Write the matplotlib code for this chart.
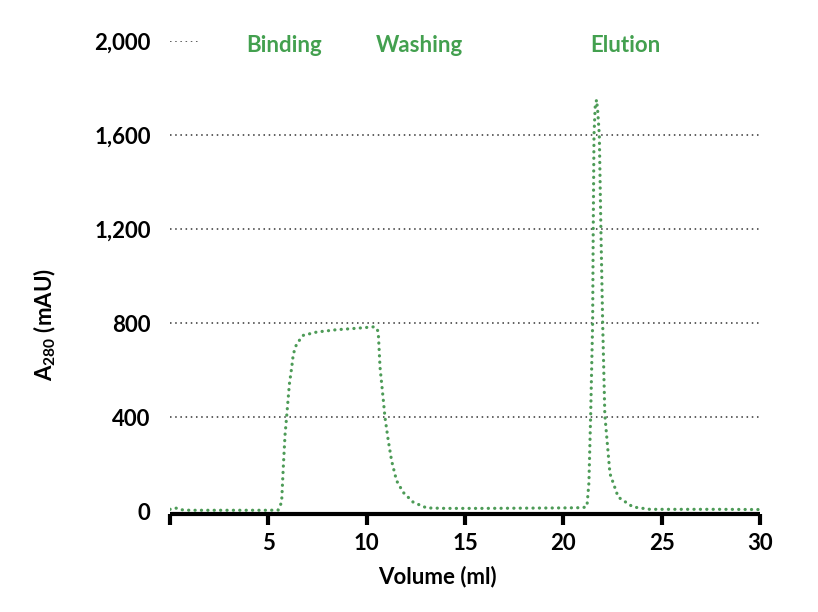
import matplotlib
matplotlib.use("Agg")
import matplotlib.pyplot as plt

plt.rcParams['font.family'] = ['Lato', 'DejaVu Sans']
plt.rcParams['font.weight'] = 'bold'
plt.rcParams['mathtext.fontset'] = 'custom'
plt.rcParams['mathtext.rm'] = 'Lato:bold'
plt.rcParams['mathtext.bf'] = 'Lato:bold'
plt.rcParams['mathtext.it'] = 'Lato:bold'

# chromatogram trace
volume_ml = [0, 0.2, 0.4, 0.6, 1, 3, 5, 5.5, 5.6, 5.68, 5.76, 5.85, 5.93, 6.07,
             6.19, 6.27, 6.44, 6.78, 7.46, 8.47, 9.49, 10.34, 10.5, 10.59, 10.68,
             10.85, 10.93, 11.1, 11.27, 11.52, 11.86, 12.37, 13.05, 14, 16, 18,
             20, 21, 21.2, 21.3, 21.39, 21.49, 21.52, 21.56, 21.62, 21.69, 21.75,
             21.83, 21.91, 22.0, 22.11, 22.37, 22.79, 23.54, 24.4, 26, 28, 30]
a280_mau = [8, 14, 12, 6, 4, 4, 4, 5, 20, 45, 185, 325, 400, 540,
            612, 668, 712, 748, 762, 772, 778, 784, 780, 762, 612,
            470, 400, 300, 214, 130, 80, 38, 14, 12, 12, 13,
            14, 15, 20, 120, 410, 800, 1200, 1600, 1720, 1750, 1700,
            1600, 1200, 800, 410, 160, 60, 18, 8, 8, 8, 7]

y_ticks = [0, 400, 800, 1200, 1600, 2000]
y_ticklabels = ['0', '400', '800', '1,200', '1,600', '2,000']
x_ticks = [0, 5, 10, 15, 20, 25, 30]
x_ticklabels = ['', '5', '10', '15', '20', '25', '30']

phase_names = ['Binding', 'Washing', 'Elution']
phase_x = [5.8, 12.66, 23.13]

green_text = '#43a04f'
green_line = '#4d9b57'

fig = plt.figure(figsize=(8.18, 6.12), dpi=100)
ax = fig.add_axes([0.2078, 0.1601, 0.7213, 0.7729])

ax.plot(volume_ml, a280_mau, color=green_line, lw=2.3,
        linestyle=(0, (0.05, 1.95)), dash_capstyle='round', zorder=3)

# dotted grid, the top one only a short stub next to the labels
for yv in y_ticks[1:-1]:
    ax.axhline(yv, color='#333333', lw=1.1, linestyle=(0, (1, 2.4)), zorder=1)
ax.axhline(2000, xmin=0, xmax=0.05, color='#333333', lw=1.1,
           linestyle=(0, (1, 2.4)), zorder=1)

for name, xv in zip(phase_names, phase_x):
    ax.text(xv, 1952, name, color=green_text, fontsize=16, fontweight='bold',
            ha='center', va='baseline')

ax.set_xlim(0, 30)
ax.set_ylim(-12, 2000)
ax.set_xticks(x_ticks)
ax.set_xticklabels(x_ticklabels)
ax.set_yticks(y_ticks)
ax.set_yticklabels(y_ticklabels)

for sp in ['top', 'right', 'left']:
    ax.spines[sp].set_visible(False)
ax.spines['bottom'].set_linewidth(3)
ax.spines['bottom'].set_capstyle('butt')

ax.tick_params(axis='x', length=8, width=3, pad=6, labelsize=16)
ax.tick_params(axis='y', length=0, pad=14, labelsize=16)
for lab in ax.get_xticklabels() + ax.get_yticklabels():
    lab.set_fontweight('bold')

fig.text(437 / 818, 1 - 577 / 612, 'Volume (ml)', fontsize=16,
         fontweight='bold', ha='center', va='center')
fig.text(45 / 818, 1 - 325 / 612, r'A$_{280}$ (mAU)', fontsize=16,
         fontweight='bold', ha='center', va='center', rotation=90)

fig.savefig('out.png', dpi=100)
